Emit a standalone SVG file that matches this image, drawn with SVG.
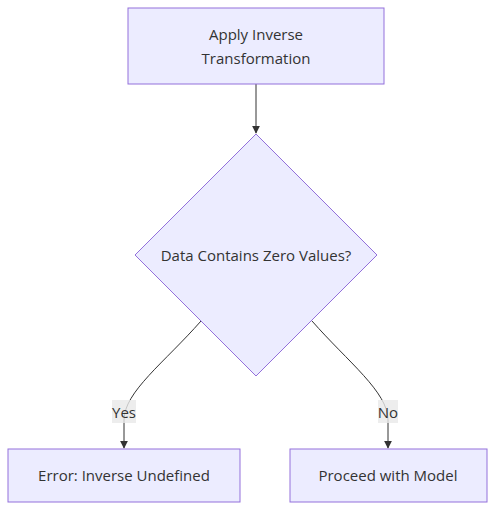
<svg xmlns="http://www.w3.org/2000/svg" width="503" height="519" viewBox="0 0 503 519">
<style>
.node{fill:#ECECFF;stroke:#9370DB;stroke-width:1px}
.lbl{font-family:"Trebuchet MS","Open Sans","DejaVu Sans",sans-serif;font-size:15px;fill:#333;text-anchor:middle;dominant-baseline:central}
.edge{fill:none;stroke:#333;stroke-width:1px}
.elbg{fill:#e8e8e8;opacity:0.8}
</style>
<defs>
<marker id="arr" viewBox="0 0 10 10" refX="9" refY="5" markerWidth="8" markerHeight="8" markerUnits="userSpaceOnUse" orient="auto">
<path d="M0,0 L10,5 L0,10 z" fill="#333"/>
</marker>
</defs>
<rect width="503" height="519" fill="#fff"/>
<g id="connectors">
<path class="edge" d="M256,84 L256,133" marker-end="url(#arr)"/>
<path class="edge" d="M201,321 C165,362 124,392 124,420 L124,448" marker-end="url(#arr)"/>
<path class="edge" d="M312,321 C348,362 388,392 388,420 L388,448" marker-end="url(#arr)"/>
<rect class="elbg" x="112" y="400" width="24" height="23"/>
<text class="lbl" x="124" y="412">Yes</text>
<rect class="elbg" x="378" y="400" width="20" height="23"/>
<text class="lbl" x="388" y="412">No</text>
</g>
<g id="apply">
<rect class="node" x="128" y="8" width="256" height="76"/>
<text class="lbl" x="256" y="34">Apply Inverse</text>
<text class="lbl" x="256" y="58">Transformation</text>
</g>
<g id="check">
<polygon class="node" points="256,134 377,255 256,376 135,255"/>
<text class="lbl" x="256" y="255">Data Contains Zero Values?</text>
</g>
<g id="error">
<rect class="node" x="8" y="449" width="232" height="53"/>
<text class="lbl" x="124" y="475">Error: Inverse Undefined</text>
</g>
<g id="proceed">
<rect class="node" x="290" y="449" width="197" height="53"/>
<text class="lbl" x="388" y="475">Proceed with Model</text>
</g>
</svg>
